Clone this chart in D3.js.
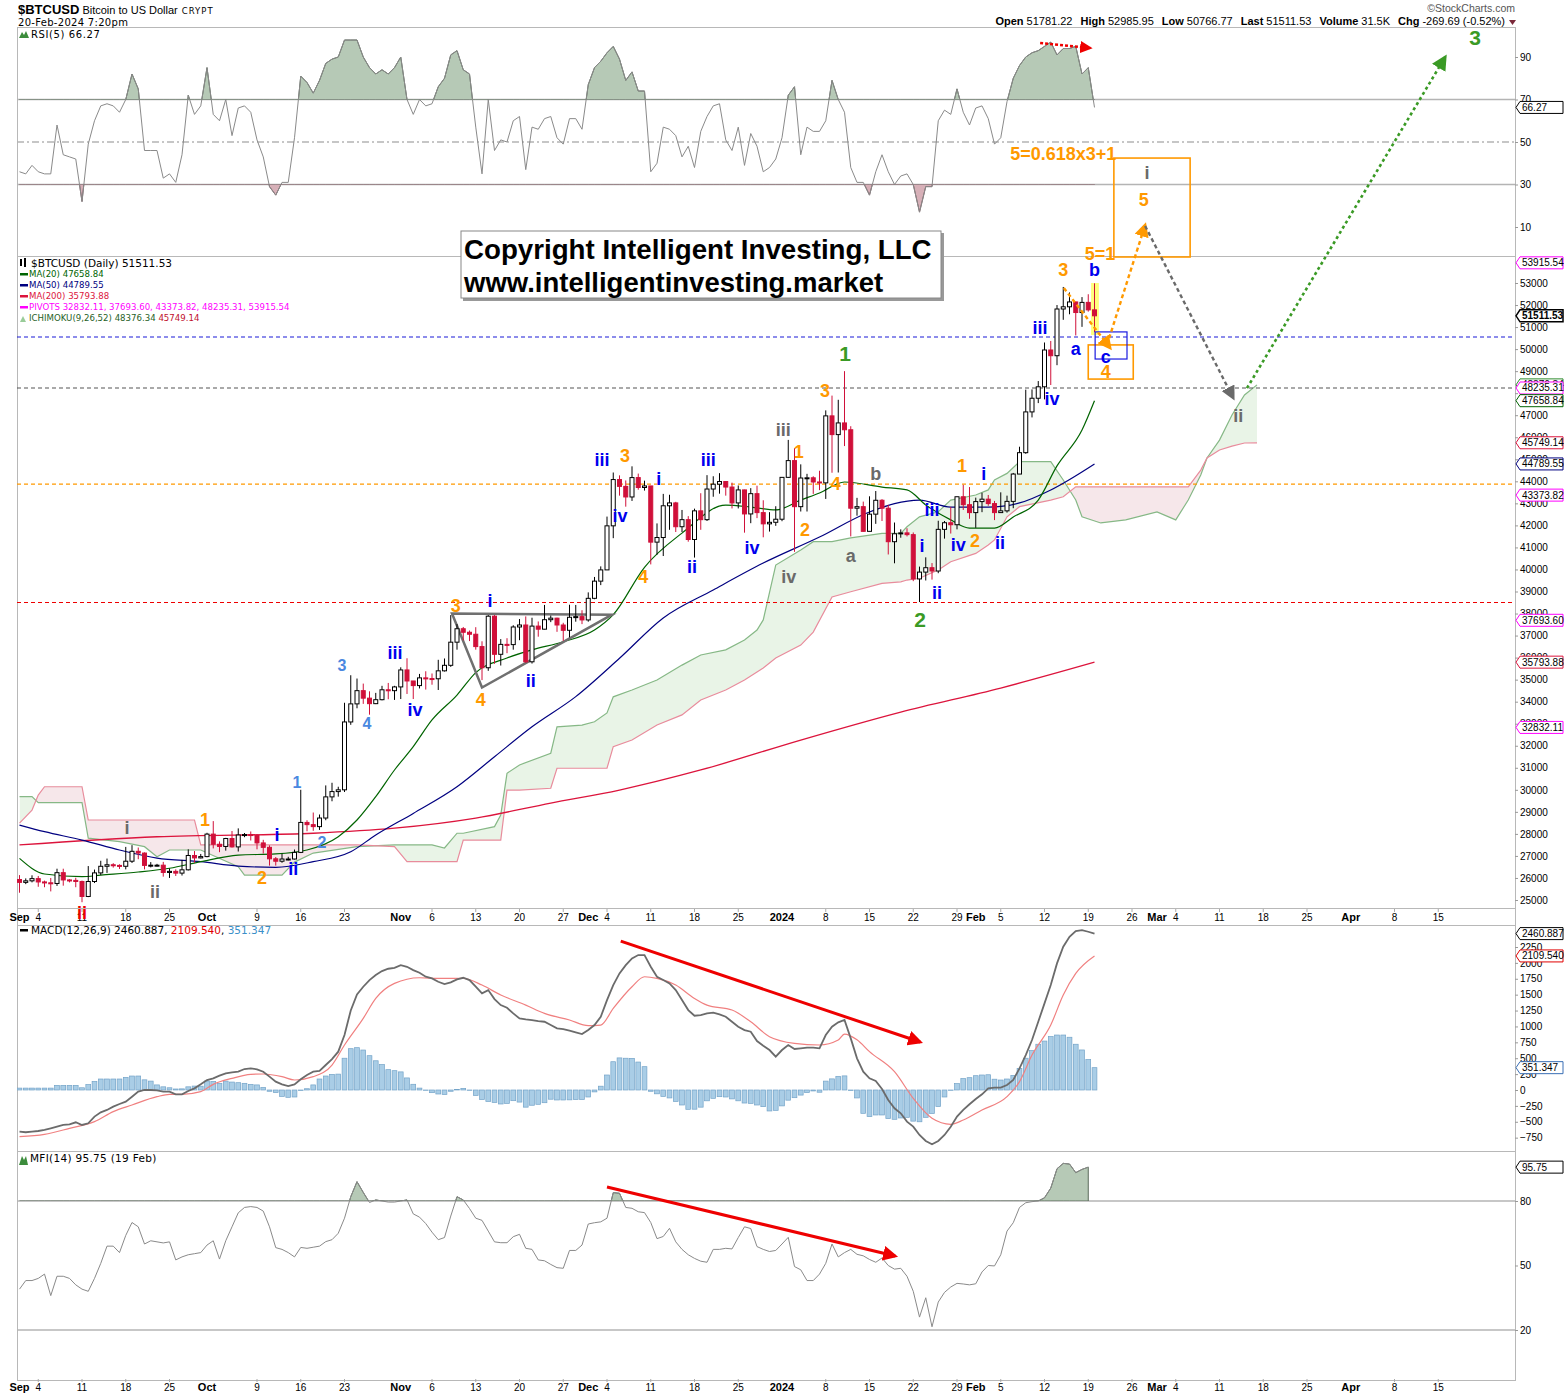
<!doctype html>
<html>
<head>
<meta charset="utf-8">
<title>$BTCUSD :: Daily</title>
<script src="https://cdn.jsdelivr.net/npm/d3@7/dist/d3.min.js"></script>
<style>
  body { margin: 0; background: #fff; }
  svg { display: block; }
  text { font-family: Arial, "Liberation Sans", sans-serif; }
  .leg { font-family: "DejaVu Sans", Verdana, sans-serif; }
  .ax text { font-size: 10px; fill: #000; }
</style>
</head>
<body>
<svg id="chart" width="1565" height="1396"></svg>
<script>
// ---- data (day 0 = 1 Sep 2023) ----
var firstDay = new Date(2023, 8, 1);

var opens = [25930,25800,25870,25970,25820,25780,25750,26240,25910,25890,
 25840,25160,25840,26230,26530,26600,26570,26530,26760,27210,
 27130,26570,26580,26580,26250,26300,26220,26370,27020,26910,
 26970,27990,27530,27430,27790,27410,27950,27970,27940,27590,
 27390,26870,26760,26860,26860,27160,28520,28420,28330,28720,
 29680,29920,30000,33080,33900,34500,34160,33910,34090,34540,
 34500,34670,35440,34940,34730,35080,35050,35040,35400,35650,
 36700,37310,37150,37060,36500,35540,37880,36150,36600,36590,
 37390,37480,35810,37430,37290,37720,37790,37480,37240,37830,
 37860,37710,38690,39470,39980,41980,44080,43770,43290,44170,
 43720,43790,41240,41450,42890,43020,41940,42260,41360,42660,
 42260,43650,43870,43990,43740,43020,43610,42520,43440,42580,
 42070,42140,42280,44180,44940,42850,44150,44160,43970,43930,
 46970,46120,46650,46340,42780,42850,41730,42510,43140,42780,
 41260,41620,41660,41580,39570,39880,40080,39930,41820,42120,
 42030,43300,42940,42580,43080,43190,42990,42580,42660,43090,
 44330,45300,47150,47770,48290,49960,49700,51820,51920,52140,
 51660,52120,51781];
var highs = [26130,25980,26120,26090,25880,26000,26420,26420,25940,26010,
 25880,26540,26380,26780,26880,26670,26620,27410,27490,27380,
 27160,26720,26640,26730,26430,26390,26820,27300,27220,27090,
 28050,28580,27660,27820,28130,28250,28040,28110,27990,27730,
 27480,26950,27100,26960,27290,30000,28620,28970,28880,30200,
 30320,30140,33950,35200,35050,34820,34470,34400,34720,34850,
 34720,35560,35970,34940,35260,35380,35280,35900,35960,37930,
 37520,37390,37230,37380,36740,37930,37930,36840,36880,37470,
 37750,37870,37810,37640,38390,37910,37810,37580,38400,38390,
 38150,38960,39660,40140,42400,44400,44270,44040,44680,44350,
 44030,43790,42090,43430,43390,43070,42700,42420,42760,43460,
 44280,44230,44370,44010,43940,43810,43620,43690,43800,43140,
 42600,42870,44180,45880,45500,44770,44340,44230,44480,47220,
 47890,47700,49000,46500,43250,43080,43320,43560,43190,42930,
 42130,41820,41870,41680,40130,40550,40290,42210,42200,42840,
 43300,43840,43740,43260,43480,43380,43110,43500,43350,44380,
 45570,48160,48170,48550,50300,50370,52000,52820,52570,52160,
 52360,52490,52986];
var lows = [25330,25720,25800,25600,25580,25390,25640,25650,25800,25580,
 24900,25130,25770,26130,26230,26470,26410,26390,26680,26850,
 26390,26480,26520,26060,26000,26090,26110,26340,26690,26890,
 26940,27340,27170,27240,27380,27200,27850,27700,27300,27110,
 26560,26560,26690,26800,26840,27130,28120,28140,28180,28620,
 29480,29690,29900,32950,33700,33900,33410,33890,34060,34110,
 34080,34120,34350,34120,34600,34550,34770,34530,35370,35580,
 36360,36780,36750,36360,34980,35400,35720,35640,36200,36360,
 36790,35760,35730,36950,37280,37610,37170,36760,36920,37630,
 37520,37630,38650,39290,39980,41420,43350,42850,43110,43620,
 43580,40230,40670,40610,41800,41700,41700,41260,40540,41800,
 42200,43300,43440,43350,42770,42770,41670,42100,42330,41460,
 41720,41980,42190,44160,40800,42630,42630,43430,43600,43200,
 44390,44400,45600,41500,42440,41720,41730,42070,42200,40680,
 40280,41440,41500,39470,38520,39500,39540,39830,41400,41630,
 41820,42700,42300,41890,42600,42890,42240,42580,42580,42780,
 44330,45250,46900,47550,47720,48370,49270,51330,51580,50620,
 51010,51700,50767];
var closes = [25800,25870,25970,25820,25780,25750,26240,25910,25890,25840,
 25160,25840,26230,26530,26600,26570,26530,26760,27210,27130,
 26570,26580,26580,26250,26300,26220,26370,27020,26910,26970,
 27990,27530,27430,27790,27410,27950,27970,27940,27590,27390,
 26870,26760,26860,26860,27160,28520,28420,28330,28720,29680,
 29920,30000,33080,33900,34500,34160,33910,34090,34540,34500,
 34670,35440,34940,34730,35080,35050,35040,35400,35650,36700,
 37310,37150,37060,36500,35540,37880,36150,36600,36590,37390,
 37480,35810,37430,37290,37720,37790,37480,37240,37830,37860,
 37710,38690,39470,39980,41980,44080,43770,43290,44170,43720,
 43790,41240,41450,42890,43020,41940,42260,41360,42660,42260,
 43650,43870,43990,43740,43020,43610,42520,43440,42580,42070,
 42140,42280,44180,44940,42850,44150,44160,43970,43930,46970,
 46120,46650,46340,42780,42850,41730,42510,43140,42780,41260,
 41620,41660,41580,39570,39880,40080,39930,41820,42120,42030,
 43300,42940,42580,43080,43190,42990,42580,42660,43090,44330,
 45300,47150,47770,48290,49960,49700,51820,51920,52140,51660,
 52120,51780,51511.53];

var rsi = [36,35,39,36,35,35,58,44,43,42, 22,49,60,67,68,67,64,70,82,75,
 46,46,46,33,35,31,44,72,63,67, 85,63,60,70,53,66,67,64,51,43,
 29,25,31,31,52,81,78,73,79,87, 89,90,98,98,98,90,85,82,84,82,
 85,90,70,63,70,67,68,76,80,91, 93,84,82,57,35,70,46,51,50,60,
 62,37,57,56,61,62,52,49,61,61, 56,77,85,88,92,95,89,79,83,74,
 74,36,40,57,56,53,43,48,38,55, 62,67,68,51,46,57,39,54,48,36,
 38,42,52,72,76,44,57,55,55,60, 79,70,64,38,31,31,25,36,44,36,
 30,34,35,30,17,29,29,60,65,63, 75,64,58,66,67,61,49,52,69,80,
 86,90,92,93,95,97,91,94,94,95, 82,85,66.27];

var macdLine = [-655,-665,-655,-645,-629,-603,-577,-550,-540,-508,
 -550,-524,-419,-351,-314,-262,-220,-183,-105,-26,
 0,0,-5,-26,-26,-68,-68,-16,26,89,
 157,183,225,262,278,288,330,341,325,288,
 210,131,89,63,89,168,236,288,299,393,
 487,603,865,1252,1504,1625,1730,1808,1871,1908,
 1923,1965,1939,1887,1845,1782,1756,1703,1667,1693,
 1740,1766,1730,1625,1520,1572,1431,1336,1294,1205,
 1127,1111,1101,1085,1074,1022,970,959,933,907,
 880,943,1022,1153,1415,1651,1834,1965,2070,2123,
 2123,1939,1782,1730,1677,1572,1415,1258,1169,1179,
 1205,1216,1190,1153,1074,996,943,917,770,697,
 629,524,629,708,645,655,666,666,655,865,
 996,1064,1101,812,498,288,183,141,16,-157,
 -288,-367,-498,-577,-708,-802,-854,-802,-708,-577,
 -419,-314,-225,-142,-68,26,37,37,79,157,
 341,550,786,1074,1363,1651,1992,2254,2411,2500,
 2516,2490,2460.887];
var signalDays = [0,4,8,12,15,18,22,24,26,29,31,34,37,39,42,44,47,50,52,55,57,60,64,67,71,74,77,81,84,88,
 91,93,95,98,100,102,105,108,110,114,117,120,124,128,131,132,134,136,140,143,146,149,151,154,158,160,162,165,167,169,172];
var signalLine = [-734,-697,-603,-498,-340,-236,-105,-68,-68,-26,89,183,246,252,210,157,210,393,708,1127,1441,1677,1766,1756,1756,1651,1494,1336,1205,1101,
 1012,1022,1284,1625,1782,1756,1651,1441,1336,1258,1074,839,734,708,786,880,790,603,288,-131,-445,-540,-472,-314,-105,131,550,1022,1494,1834,2109.54];
var macdHist = [30,30,30,30,30,30,73,73,73,73, 35,85,135,173,173,173,173,199,220,220,
 160,140,80,50,35,16,18,50,62,60, 141,135,105,140,125,115,105,89,80,40,
 -20,-40,-100,-115,-110,-10,20,80,173,220, 246,250,500,650,666,629,540,460,400,320,
 304,285,190,90,30,-5,-42,-63,-70,-20, 10,26,-5,-85,-150,-180,-195,-220,-210,-168,
 -190,-270,-240,-225,-200,-145,-157,-157,-155,-150, -150,-110,-30,60,236,445,505,500,498,440,
 367,-20,-60,-100,-125,-180,-236,-304,-302,-270, -170,-131,-105,-110,-140,-170,-205,-210,-236,-262,
 -330,-320,-250,-160,-121,-80,-40,-15,-35,140, 175,215,222,-10,-125,-367,-419,-393,-393,-450,
 -461,-440,-430,-490,-500,-430,-370,-260,-110,-5, 100,180,194,225,236,240,170,157,173,230,
 340,500,620,720,770,840,865,865,830,720, 630,480,351.347];

var mfi = [39,43,43,44,46,36,45,45,44,41, 39,38,44,51,59,59,56,64,70,68,
 60,61.5,61,60.5,61,52.6,54,55,55.5,56, 59.5,61.5,53,61.5,68,74.5,77,77.4,77,75.3,
 68,58.3,57.5,56,54,58.4,58,58.5,59,61.1, 62,65,72,82,89,84,79.3,80.5,80,79.5,
 79.5,80,80.5,74,72.5,69.5,65.5,62,63,73, 82,80.5,76.5,72,71,66,61,60.6,60.6,63.4,
 64.5,58,57.5,52.6,52.2,50.5,49,48.7,57,57, 59.5,69.3,69.9,70.3,72,83.9,83.6,77,76.6,75,
 74.6,70,62.5,63.5,67.3,61,57.5,55,53.3,52, 51.5,57.5,57.5,58,57.7,63,68,67.2,58.8,57.5,
 56.5,57,60,63.1,49.5,48,43,43,46,51, 60,54,56,57.5,55.2,54.5,52.8,51.5,53.5,50,
 48.3,48.7,45,38,26,35,21.5,33,37.5,40, 41.7,41.4,41,41.5,47,50,49.8,55,66,69.9,
 77,79.2,79.7,80,81.5,86,95,97.5,97.2,93.2, 94.7,95.75];

var ma20Days = [0,4,10,13,19,24,29,35,41,46,51,54,57,60,63,66,70,73,78,82,87,92,95,100,106,113,117,121,125,128,132,138,142,145,149,152,156,159,163,166,170,172];
var ma20 = [26890,26180,26060,26130,26270,26440,26740,27040,27090,27270,27870,28630,29690,30900,31960,33170,34300,35320,35980,36350,36720,37250,37950,40100,41650,42920,42830,42700,43150,43470,43970,43740,43610,42930,42250,41880,41880,42380,43150,44700,46330,47658.84];
var ma50Days = [0,4,10,16,22,29,35,41,47,53,57,63,70,76,82,89,96,103,111,119,128,136,144,149,155,160,165,172];
var ma50 = [28400,28100,27720,27270,26900,26740,26540,26480,26740,27190,27950,28930,30140,31500,32860,34230,35970,37800,39070,40290,41470,42610,43150,42830,42830,43020,43610,44789.55];
var ma200Days = [0,22,47,60,73,85,96,109,125,141,157,172];
var ma200 = [27500,27870,28030,28260,28720,29400,29990,30900,32260,33530,34620,35793.88];

var cloudDays = [0,2,3,4,10,11,16,20,22,24,28,29,35,36,42,44,47,54,60,62,66,68,70,71,76,77,78,80,85,86,
 90,92,94,95,98,102,106,109,113,116,118,119,121,125,127,130,133,138,141,142,144,147,149,153,155,156,158,160,165,167,
 169,170,173,177,182,185,187,189,190,192,194,196,198];
var spanA = [29690,29690,29420,29420,29420,27810,27650,27420,26960,27270,27270,27270,26510,26130,26130,26720,27130,27420,27500,27500,
 27500,27360,28030,28030,28330,28860,30750,31130,31660,32860,32940,33090,33490,34220,34530,34980,35660,36120,36350,36800,
 37250,37710,40200,40880,41260,41260,41430,41640,41640,41940,42390,42620,43150,43380,43610,44060,44360,44890,44890,44060,
 43150,42390,42110,42250,42610,42250,43150,44290,45060,45870,47010,47920,48376.34];
var spanB = [28490,29080,29760,30140,30140,28630,28630,28630,28630,28630,28630,27500,27500,27500,27500,27500,27500,27500,27420,26740,
 26740,26740,26740,27720,27720,27720,29990,29990,30070,30980,30980,30980,30980,31960,32260,32940,33400,34080,34530,34980,
 35350,35530,35980,36570,37160,38750,38990,39370,39440,39520,39600,39980,40350,40730,41110,41340,42390,42850,43150,43300,
 43750,43750,43750,43750,43750,43750,43750,44510,45060,45420,45600,45740,45749.14];

var levelPrices = [50550, 48235.31, 43870, 38500];
var levelKeys = ["blue", "gray", "orange", "red"];

var priceTicks = d3.range(25000, 53001, 1000);
var rsiTicks = [10, 30, 50, 70, 90];
var macdTicks = d3.range(-750, 2251, 250);
var mfiTicks = [20, 50, 80];

// axis tags on the right: [value, text, colour key, bold]
var priceTags = [[53915.54,"53915.54","pivot"],[51511.53,"51511.53","last"],[48376.34,"48376.34","cloud"],
 [48235.31,"48235.31","pivot"],[47658.84,"47658.84","ma20"],[45749.14,"45749.14","ma200"],[44789.55,"44789.55","ma50"],
 [43373.82,"43373.82","pivot"],[37693.60,"37693.60","pivot"],[35793.88,"35793.88","ma200"],[32832.11,"32832.11","pivot"]];

// Elliott wave notes: [day, price, text, colour key, big]
var waveNotes = [
 [10,24420,"ii","red",0],[17.2,28270,"i","gray",0],[21.7,25360,"ii","gray",0],[29.7,28630,"1","orange",0],
 [38.8,26000,"2","orange",0],[41.2,27950,"i","blue",0],[43.8,26410,"ii","blue",0],[44.4,30310,"1","sky",0],
 [48.4,27630,"2","sky",0],[51.6,35660,"3","sky",0],[55.6,32990,"4","sky",0],[60.1,36210,"iii","blue",0],
 [63.3,33620,"iv","blue",0],[69.8,38340,"3","orange",0],[73.8,34080,"4","orange",0],[75.3,38570,"i","blue",0],
 [81.8,34940,"ii","blue",0],[93.2,44970,"iii","blue",0],[96.9,45150,"3","orange",0],[96.1,42430,"iv","blue",0],
 [102.3,44110,"i","blue",0],[99.8,39660,"4","orange",0],[107.6,40110,"ii","blue",0],[110.2,44970,"iii","blue",0],
 [117.2,40970,"iv","blue",0],[122.2,46330,"iii","gray",0],[124.7,45330,"1","orange",0],[125.7,41790,"2","orange",0],
 [123.1,39660,"iv","gray",0],[128.9,48100,"3","orange",0],[130.6,43880,"4","orange",0],[132.1,49820,"1","green",1],
 [137,44330,"b","gray",0],[133,40610,"a","gray",0],[146,42700,"iii","blue",0],[144.4,41060,"i","blue",0],
 [146.8,38930,"ii","blue",0],[144.1,37710,"2","green",1],[150.8,44700,"1","orange",0],[154.3,44330,"i","blue",0],
 [150.2,41110,"iv","blue",0],[152.9,41290,"2","orange",0],[156.9,41200,"ii","blue",0],[163.3,50960,"iii","blue",0],
 [165.2,47740,"iv","blue",0],[167,53590,"3","orange",0],[172,53590,"b","blue",0],[172.9,54320,"5=1","orange",0],
 [169,50000,"a","blue",0],[173.8,49640,"c","blue",0],[173.8,48960,"4","orange",0],[167,58850,"5=0.618x3+1","orange",0],
 [180.4,57990,"i","gray",0],[179.9,56770,"5","orange",0],[195,46960,"ii","gray",0],[232.9,64120,"3","green",1]
];
// boxes and arrows in [day, price] coordinates
var noteBoxes = [[175.1,58670,187.3,54180,"orange"],[171,50190,178.2,48640,"orange"],[172.1,50780,177.2,49550,"blue"]];
var noteArrows = [[167.1,52770,174.5,50050,"orange"],[174,50190,180.1,55630,"orange"],[180.1,55590,194.2,47780,"gray"],[196.4,48230,228.1,63250,"green"]];
var triangle = [[69.2,38000],[74,34640],[94.8,37950]];

// ---- drawing ----
var svg = d3.select("#chart");
var L = 17, R = 1515;
var P = { rsi:[27,256], price:[256,908], band:[908,925], macd:[925,1151], mfi:[1151,1380] };
var col = { orange:"#ff9900", blue:"#0000ee", gray:"#6a6a6a", green:"#3a9a25", sky:"#4a88e0", red:"#ee0000",
  pivot:"#ff00ff", last:"#000", cloud:"#2e8b2e", ma20:"#006400", ma50:"#000080", ma200:"#dc143c" };

var x = d3.scaleLinear().domain([0, 234]).range([19.5, 1482]);
var yRsi = d3.scaleLinear().domain([0, 100]).range([248.25, 35.75]);
var yPrice = d3.scaleLinear().domain([25000, 53000]).range([900, 283]);
var yMacd = d3.scaleLinear().domain([0, 2250]).range([1090, 947]);
var yMfi = d3.scaleLinear().domain([20, 80]).range([1330, 1201]);

var defs = svg.append("defs");
Object.keys(P).forEach(function(k){
  defs.append("clipPath").attr("id","clip-"+k).append("rect")
    .attr("x", L).attr("y", P[k][0]).attr("width", R-L).attr("height", P[k][1]-P[k][0]);
});
["orange","gray","green","red"].forEach(function(k){
  defs.append("marker").attr("id","head-"+k).attr("viewBox","0 0 10 10").attr("refX",8).attr("refY",5)
    .attr("markerWidth", k=="red"?5:6).attr("markerHeight", k=="red"?5:6).attr("orient","auto")
    .append("path").attr("d","M0,0 L10,5 L0,10 z").attr("fill", col[k]);
});

// frames
Object.keys(P).forEach(function(k){
  svg.append("rect").attr("x", L+0.5).attr("y", P[k][0]+0.5).attr("width", R-L).attr("height", P[k][1]-P[k][0])
    .attr("fill","none").attr("stroke","#b8b8b8");
});

// header
var h1 = svg.append("text").attr("x", 18).attr("y", 14);
h1.append("tspan").attr("font-weight","bold").attr("font-size",13).text("$BTCUSD");
h1.append("tspan").attr("font-size",11).attr("dx",3).text("Bitcoin to US Dollar");
h1.append("tspan").attr("font-size",8.5).attr("dx",4).attr("letter-spacing",1).attr("class","leg").text("CRYPT");
svg.append("text").attr("x",18).attr("y",26).attr("font-size",10).attr("class","leg").attr("letter-spacing",0.3).text("20-Feb-2024 7:20pm");
svg.append("text").attr("x",1515).attr("y",12).attr("text-anchor","end").attr("font-size",10.5).attr("fill","#555").text("\u00a9StockCharts.com");
var q = svg.append("text").attr("x",1505).attr("y",25).attr("text-anchor","end").attr("font-size",11);
[["Open","51781.22"],["High","52985.95"],["Low","50766.77"],["Last","51511.53"],["Volume","31.5K"],["Chg","-269.69 (-0.52%)"]]
  .forEach(function(f, i){
    q.append("tspan").attr("font-weight","bold").attr("dx", i ? 8 : 0).text(f[0]);
    q.append("tspan").attr("dx",3).text(f[1]);
  });
svg.append("path").attr("d","M1509,20 L1516,20 L1512.5,25 z").attr("fill","#7a2a3a");

// right axis helper
function rightAxis(scale, ticks, fmt){
  var g = svg.append("g").attr("class","ax").attr("transform","translate("+R+",0)")
    .call(d3.axisRight(scale).tickValues(ticks).tickSize(3).tickPadding(2).tickFormat(fmt || d3.format("d")));
  g.select(".domain").remove();
  g.selectAll("line").attr("stroke","#999");
  g.selectAll("text").attr("font-family","Arial, Liberation Sans, sans-serif");
  return g;
}
function tag(y, txt, c, bold){
  var g = svg.append("g");
  g.append("path").attr("d","M"+(R+1)+","+y+" L"+(R+5)+","+(y-6)+" L1563,"+(y-6)+" L1563,"+(y+6)+" L"+(R+5)+","+(y+6)+" z")
    .attr("fill","#fff").attr("stroke", c).attr("stroke-width", bold ? 1.5 : 1);
  g.append("text").attr("x", R+7).attr("y", y+3.5).attr("font-size",10).attr("font-weight", bold ? "bold":"normal").text(txt);
}

// ---- RSI panel ----
var gR = svg.append("g").attr("clip-path","url(#clip-rsi)");
var hlineR = function(v, dash){ gR.append("line").attr("x1",L).attr("x2",R).attr("y1",yRsi(v)).attr("y2",yRsi(v))
  .attr("stroke","#b4b4b4").attr("stroke-width",1.5).attr("stroke-dasharray", dash||null); };
hlineR(70); hlineR(30); hlineR(50, "7,3,2,3");
defs.append("clipPath").attr("id","rsi-hi").append("rect").attr("x",L).attr("y",27).attr("width",R-L).attr("height",yRsi(70)-27);
defs.append("clipPath").attr("id","rsi-lo").append("rect").attr("x",L).attr("y",yRsi(30)).attr("width",R-L).attr("height",256-yRsi(30));
gR.append("path").datum(rsi).attr("clip-path","url(#rsi-hi)")
  .attr("d", d3.area().x(function(d,i){return x(i);}).y0(yRsi(70)).y1(function(d){return yRsi(d);}))
  .attr("fill","#b6c9b6").attr("stroke","#5a6a5a").attr("stroke-width",1);
gR.append("path").datum(rsi).attr("clip-path","url(#rsi-lo)")
  .attr("d", d3.area().x(function(d,i){return x(i);}).y0(yRsi(30)).y1(function(d){return yRsi(d);}))
  .attr("fill","#d7b0b8").attr("stroke","#7a5a60").attr("stroke-width",1);
gR.append("path").datum(rsi).attr("d", d3.line().x(function(d,i){return x(i);}).y(function(d){return yRsi(d);}))
  .attr("fill","none").attr("stroke","#8a8a8a").attr("stroke-width",1);
rightAxis(yRsi, rsiTicks);
tag(yRsi(66.27), "66.27", "#000", false);
svg.append("path").attr("d","M19,38 L22,32 L24,35 L26,31 L29,38 z").attr("fill","#3c8c3c");
svg.append("text").attr("class","leg").attr("x",31).attr("y",38).attr("font-size",10).attr("letter-spacing",0.6).text("RSI(5) 66.27");
svg.append("line").attr("x1",x(163.3)).attr("y1",yRsi(96.6)).attr("x2",x(171.3)).attr("y2",yRsi(94.2))
  .attr("stroke",col.red).attr("stroke-width",2.5).attr("stroke-dasharray","3,2").attr("marker-end","url(#head-red)");

// ---- price panel ----
var gP = svg.append("g").attr("clip-path","url(#clip-price)");
var cloud = cloudDays.map(function(d,i){ return {d:d, a:spanA[i], b:spanB[i]}; });
defs.append("clipPath").attr("id","above-b").append("path")
  .attr("d", d3.area().x(function(c){return x(c.d);}).y0(0).y1(function(c){return yPrice(c.b);})(cloud));
defs.append("clipPath").attr("id","below-b").append("path")
  .attr("d", d3.area().x(function(c){return x(c.d);}).y0(1000).y1(function(c){return yPrice(c.b);})(cloud));
var cloudArea = d3.area().x(function(c){return x(c.d);}).y0(function(c){return yPrice(c.b);}).y1(function(c){return yPrice(c.a);});
gP.append("path").datum(cloud).attr("d", cloudArea).attr("clip-path","url(#above-b)").attr("fill","#e9f4e7");
gP.append("path").datum(cloud).attr("d", cloudArea).attr("clip-path","url(#below-b)").attr("fill","#f6e7ea");
gP.append("path").datum(cloud).attr("fill","none").attr("stroke","#86b886").attr("stroke-width",1.2)
  .attr("d", d3.line().x(function(c){return x(c.d);}).y(function(c){return yPrice(c.a);}));
gP.append("path").datum(cloud).attr("fill","none").attr("stroke","#e88c9c").attr("stroke-width",1.2)
  .attr("d", d3.line().x(function(c){return x(c.d);}).y(function(c){return yPrice(c.b);}));

levelPrices.forEach(function(p, i){
  gP.append("line").attr("x1",L).attr("x2",R).attr("y1",yPrice(p)).attr("y2",yPrice(p))
    .attr("stroke", levelKeys[i]=="gray" ? "#555" : (levelKeys[i]=="blue" ? "#1a1ad8" : col[levelKeys[i]]))
    .attr("stroke-width",1.2).attr("stroke-dasharray","4,3");
});

function maLine(days, vals, c, w){
  gP.append("path").datum(days.map(function(d,i){return [d, vals[i]];}))
    .attr("d", d3.line().curve(d3.curveMonotoneX).x(function(p){return x(p[0]);}).y(function(p){return yPrice(p[1]);}))
    .attr("fill","none").attr("stroke", c).attr("stroke-width", w);
}
maLine(ma200Days, ma200, col.ma200, 1.3);
maLine(ma50Days, ma50, col.ma50, 1.2);
maLine(ma20Days, ma20, col.ma20, 1.2);

// yellow highlight on the last bar
gP.append("rect").attr("x", x(171.45)).attr("width", x(172.7)-x(171.45)).attr("y", yPrice(53000)).attr("height", yPrice(50640)-yPrice(53000))
  .attr("fill","#ffff66").attr("opacity",0.85);

// triangle
gP.append("path").attr("d", d3.line().x(function(p){return x(p[0]);}).y(function(p){return yPrice(p[1]);}).curve(d3.curveLinearClosed)(triangle))
  .attr("fill","none").attr("stroke","#707070").attr("stroke-width",2.5);

var candles = closes.map(function(c,i){ return {i:i, o:opens[i], h:highs[i], l:lows[i], c:c}; });
var bw = 4, downC = "#d0103a";
gP.append("g").selectAll("line").data(candles).join("line")
  .attr("x1", function(d){return x(d.i);}).attr("x2", function(d){return x(d.i);})
  .attr("y1", function(d){return yPrice(d.h);}).attr("y2", function(d){return yPrice(d.l);})
  .attr("stroke", function(d){return d.c >= d.o ? "#000" : downC;}).attr("stroke-width",1);
gP.append("g").selectAll("rect").data(candles).join("rect")
  .attr("x", function(d){return x(d.i)-bw/2;}).attr("width", bw)
  .attr("y", function(d){return yPrice(Math.max(d.o,d.c));})
  .attr("height", function(d){return Math.max(1, Math.abs(yPrice(d.o)-yPrice(d.c)));})
  .attr("fill", function(d){return d.c >= d.o ? "#fff" : downC;})
  .attr("stroke", function(d){return d.c >= d.o ? "#000" : downC;}).attr("stroke-width",1);

rightAxis(yPrice, priceTicks);
priceTags.forEach(function(t){ tag(yPrice(t[0]), t[1], col[t[2]], t[2]=="last"); });

// price legend
svg.append("rect").attr("x",20).attr("y",259).attr("width",2).attr("height",7).attr("fill","#000");
svg.append("rect").attr("x",24).attr("y",258).attr("width",2).attr("height",9).attr("fill","#000");
svg.append("text").attr("class","leg").attr("x",31).attr("y",267).attr("font-size",10.5).text("$BTCUSD (Daily) 51511.53");
[["MA(20) 47658.84","ma20"],["MA(50) 44789.55","ma50"],["MA(200) 35793.88","ma200"],
 ["PIVOTS 32832.11, 37693.60, 43373.82, 48235.31, 53915.54","pivot"]].forEach(function(l, i){
  var yy = 277 + i*11;
  svg.append("rect").attr("x",20).attr("y",yy-4).attr("width",8).attr("height",2.5).attr("fill",col[l[1]]);
  svg.append("text").attr("class","leg").attr("x",29).attr("y",yy).attr("font-size",8.6).attr("fill",col[l[1]]).text(l[0]);
});
svg.append("path").attr("d","M20,322 L23,316 L26,322 z").attr("fill","#9c9");
var ich = svg.append("text").attr("class","leg").attr("x",29).attr("y",321).attr("font-size",8.6);
ich.append("tspan").attr("fill","#1f5f1f").text("ICHIMOKU(9,26,52) 48376.34 ");
ich.append("tspan").attr("fill","#c0102c").text("45749.14");

// ---- date band labels ----
function dayOf(dt){ return d3.timeDay.count(firstDay, dt); }
var lastDay = d3.timeDay.offset(firstDay, 234);
var monthStarts = d3.timeMonth.range(firstDay, lastDay);
var mondays = d3.timeMonday.range(firstDay, lastDay).filter(function(m){
  return monthStarts.every(function(ms){ return Math.abs(dayOf(m)-dayOf(ms)) > 2; });
});
function dateLabels(yy){
  var g = svg.append("g");
  mondays.forEach(function(m){
    g.append("line").attr("x1",x(dayOf(m))).attr("x2",x(dayOf(m))).attr("y1",yy-12).attr("y2",yy-9).attr("stroke","#aaa");
    g.append("text").attr("x",x(dayOf(m))).attr("y",yy).attr("text-anchor","middle").attr("font-size",10).text(d3.timeFormat("%-d")(m));
  });
  monthStarts.forEach(function(ms){
    g.append("text").attr("x",x(dayOf(ms))).attr("y",yy).attr("text-anchor","middle").attr("font-size",11).attr("font-weight","bold")
      .text(ms.getMonth()==0 ? ms.getFullYear() : d3.timeFormat("%b")(ms));
  });
}
dateLabels(921);
dateLabels(1391);

// ---- MACD panel ----
var gM = svg.append("g").attr("clip-path","url(#clip-macd)");
gM.append("g").selectAll("rect").data(macdHist).join("rect")
  .attr("x", function(d,i){return x(i)-2.4;}).attr("width",4.8)
  .attr("y", function(d){return Math.min(yMacd(0), yMacd(d));})
  .attr("height", function(d){return Math.abs(yMacd(d)-yMacd(0));})
  .attr("fill","#a9cde6").attr("stroke","#73a3c8").attr("stroke-width",0.7);
gM.append("path").datum(signalDays.map(function(d,i){return [d, signalLine[i]];}))
  .attr("d", d3.line().curve(d3.curveMonotoneX).x(function(p){return x(p[0]);}).y(function(p){return yMacd(p[1]);}))
  .attr("fill","none").attr("stroke","#f08080").attr("stroke-width",1.2);
gM.append("path").datum(macdLine)
  .attr("d", d3.line().x(function(d,i){return x(i);}).y(function(d){return yMacd(d);}))
  .attr("fill","none").attr("stroke","#6b6b6b").attr("stroke-width",1.8);
svg.append("line").attr("x1",x(96.2)).attr("y1",yMacd(2343)).attr("x2",x(144.1)).attr("y2",yMacd(755))
  .attr("stroke","#ee0000").attr("stroke-width",3).attr("marker-end","url(#head-red)");
rightAxis(yMacd, macdTicks);
tag(yMacd(2460.887), "2460.887", "#000", false);
tag(yMacd(2109.54), "2109.540", "#e00000", false);
tag(yMacd(351.347), "351.347", "#3a6fb5", false);
svg.append("rect").attr("x",20).attr("y",929).attr("width",8).attr("height",2.5).attr("fill","#000");
var ml = svg.append("text").attr("class","leg").attr("x",31).attr("y",934).attr("font-size",10.5);
ml.append("tspan").text("MACD(12,26,9) 2460.887, ");
ml.append("tspan").attr("fill","#e00000").text("2109.540");
ml.append("tspan").text(", ");
ml.append("tspan").attr("fill","#3a8fc8").text("351.347");

// ---- MFI panel ----
var gF = svg.append("g").attr("clip-path","url(#clip-mfi)");
[80,20].forEach(function(v){
  gF.append("line").attr("x1",L).attr("x2",R).attr("y1",yMfi(v)).attr("y2",yMfi(v)).attr("stroke","#b4b4b4").attr("stroke-width",1.5);
});
defs.append("clipPath").attr("id","mfi-hi").append("rect").attr("x",L).attr("y",1151).attr("width",R-L).attr("height",yMfi(80)-1151);
gF.append("path").datum(mfi).attr("clip-path","url(#mfi-hi)")
  .attr("d", d3.area().x(function(d,i){return x(i);}).y0(yMfi(80)).y1(function(d){return yMfi(d);}))
  .attr("fill","#b6c9b6").attr("stroke","#5a6a5a");
gF.append("path").datum(mfi).attr("d", d3.line().x(function(d,i){return x(i);}).y(function(d){return yMfi(d);}))
  .attr("fill","none").attr("stroke","#8a8a8a").attr("stroke-width",1);
svg.append("line").attr("x1",x(94)).attr("y1",yMfi(86.5)).attr("x2",x(140.1)).attr("y2",yMfi(54.4))
  .attr("stroke","#ee0000").attr("stroke-width",3).attr("marker-end","url(#head-red)");
rightAxis(yMfi, mfiTicks);
tag(yMfi(95.75), "95.75", "#000", false);
svg.append("path").attr("d","M19,1165 L22,1156 L24,1160 L26,1156 L28,1165 z").attr("fill","#3c8c3c");
svg.append("text").attr("class","leg").attr("x",30).attr("y",1162).attr("font-size",10.5).attr("letter-spacing",0.3).text("MFI(14) 95.75 (19 Feb)");

// ---- annotations on top ----
var gN = svg.append("g");
noteBoxes.forEach(function(b){
  gN.append("rect").attr("x",x(b[0])).attr("y",yPrice(b[1])).attr("width",x(b[2])-x(b[0])).attr("height",yPrice(b[3])-yPrice(b[1]))
    .attr("fill","none").attr("stroke", b[4]=="blue" ? "#1a1ae0" : col.orange).attr("stroke-width", b[4]=="blue" ? 1.2 : 1.6);
});
noteArrows.forEach(function(a){
  gN.append("line").attr("x1",x(a[0])).attr("y1",yPrice(a[1])).attr("x2",x(a[2])).attr("y2",yPrice(a[3]))
    .attr("stroke", col[a[4]]).attr("stroke-width", a[4]=="green" ? 2.6 : 2.4)
    .attr("stroke-dasharray", a[4]=="green" ? "3,3" : "4,3").attr("marker-end","url(#head-"+a[4]+")");
});
gN.selectAll("text.wave").data(waveNotes).join("text").attr("class","wave")
  .attr("x", function(n){return x(n[0]);}).attr("y", function(n){return yPrice(n[1]);})
  .attr("text-anchor","middle").attr("dominant-baseline","central")
  .attr("font-weight","bold").attr("font-size", function(n){return n[4] ? 21 : (n[3]=="sky" ? 16 : 18);})
  .attr("fill", function(n){return col[n[3]];})
  .text(function(n){return n[2];});

// copyright box
var cb = svg.append("g");
cb.append("rect").attr("x",463).attr("y",233).attr("width",481).attr("height",68).attr("fill","#999");
cb.append("rect").attr("x",461).attr("y",231).attr("width",480).attr("height",67).attr("fill","#fff").attr("stroke","#888");
cb.append("text").attr("x",464).attr("y",259).attr("font-size",27.7).attr("font-weight","bold").text("Copyright Intelligent Investing, LLC");
cb.append("text").attr("x",464).attr("y",292).attr("font-size",27.5).attr("font-weight","bold").text("www.intelligentinvesting.market");
</script>
</body>
</html>
